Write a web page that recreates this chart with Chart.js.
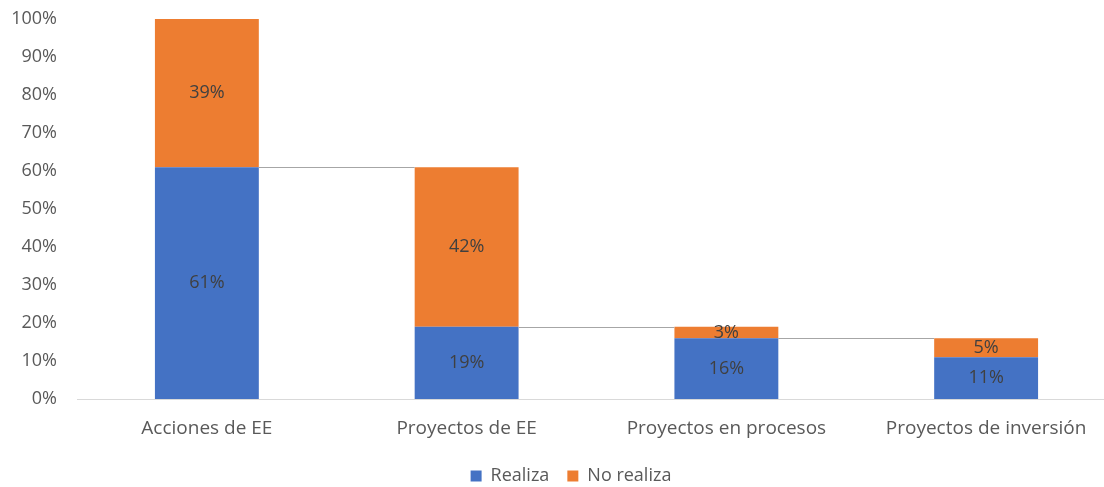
<!DOCTYPE html>
<html>
<head>
<meta charset="utf-8">
<script src="https://cdn.jsdelivr.net/npm/chart.js@4"></script>
<style>
  html, body { margin: 0; padding: 0; background: #fff; overflow: hidden; }
  #wrap { width: 1116px; height: 487px; position: relative; }
</style>
</head>
<body>
<div id="wrap"><canvas id="chart"></canvas></div>
<script>
const categories = ["Acciones de EE", "Proyectos de EE", "Proyectos en procesos", "Proyectos de inversión"];
const realiza = [61, 19, 16, 11];
const noRealiza = [39, 42, 3, 5];
const yStep = 10;

const font = "'Open Sans', 'Noto Sans', sans-serif";
const fs = 18;

// thin grey connectors between bars (waterfall style)
const connectors = {
    id: 'connectors',
    afterDatasetsDraw(chart) {
        const ctx = chart.ctx;
        const low = chart.getDatasetMeta(0).data;
        const high = chart.getDatasetMeta(1).data;
        ctx.save();
        ctx.strokeStyle = '#a6a6a6';
        ctx.lineWidth = 1;
        for (let i = 0; i < low.length - 1; i++) {
            let y = Math.round(low[i].y) + 0.5;
            ctx.beginPath();
            ctx.moveTo(low[i].x + low[i].width / 2, y);
            ctx.lineTo(high[i + 1].x - high[i + 1].width / 2, y);
            ctx.stroke();
        }
        ctx.restore();
    }
};

const barLabels = {
    id: 'barLabels',
    afterDatasetsDraw(chart) {
        const ctx = chart.ctx;
        ctx.save();
        ctx.font = fs + "px " + font;
        ctx.fillStyle = '#404040';
        ctx.textAlign = 'center';
        ctx.textBaseline = 'middle';
        chart.data.datasets.forEach((ds, d) => {
            chart.getDatasetMeta(d).data.forEach((bar, i) => {
                let mid = (bar.y + bar.base) / 2;
                ctx.fillText(ds.data[i] + '%', bar.x, mid);
            });
        });
        ctx.restore();
    }
};

// nudge the legend a bit to the right / down, like the original
const legendShift = {
    id: 'legendShift',
    afterLayout(chart) {
        let lg = chart.legend;
        lg.left += 13; lg.right += 13;
        lg.top += 8; lg.bottom += 8;
    }
};

chart = new Chart(document.getElementById("chart"), {
    type: 'bar',
    data: {
        labels: categories,
        datasets: [
            { label: "Realiza", data: realiza, backgroundColor: '#4472C4' },
            { label: "No realiza", data: noRealiza, backgroundColor: '#ED7D31' }
        ]
    },
    options: {
        responsive: true,
        maintainAspectRatio: false,
        animation: false,
        barPercentage: 0.4,
        categoryPercentage: 1,
        layout: { padding: { left: 0, top: 19, right: 0, bottom: 0 } },
        plugins: {
            legend: {
                position: 'bottom',
                labels: {
                    font: { family: font, size: fs },
                    color: '#595959',
                    boxWidth: 11,
                    boxHeight: 11,
                    padding: 18
                }
            },
            tooltip: { enabled: false }
        },
        scales: {
            x: {
                stacked: true,
                afterFit(scale) { scale.height = 42; },
                grid: { display: false },
                border: { color: '#d9d9d9' },
                ticks: { font: { family: font, size: 19 }, color: '#595959', padding: 10 }
            },
            y: {
                stacked: true,
                min: 0,
                max: 100,
                afterFit(scale) { scale.width = 77; scale.paddingTop = 0; scale.paddingBottom = 0; },
                grid: { display: false },
                border: { display: false },
                ticks: {
                    stepSize: yStep,
                    font: { family: font, size: fs },
                    color: '#595959',
                    padding: 12,
                    callback: v => v + '%'
                }
            }
        }
    },
    plugins: [connectors, barLabels, legendShift]
});
</script>
</body>
</html>
